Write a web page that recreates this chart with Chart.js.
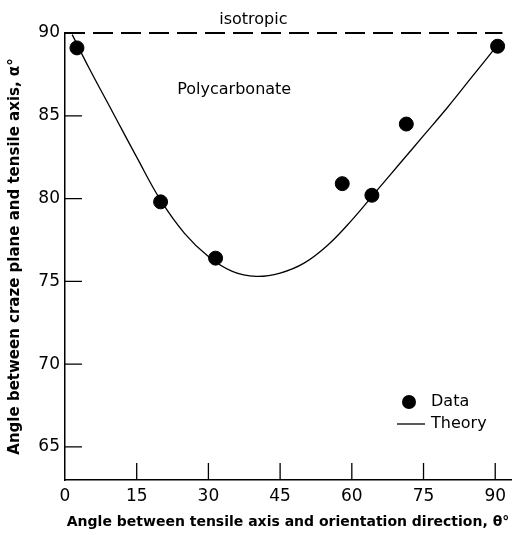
<!DOCTYPE html>
<html>
<head>
<meta charset="utf-8">
<script src="https://cdn.jsdelivr.net/npm/chart.js@4.4.1/dist/chart.umd.min.js"></script>
<style>
  html, body { margin: 0; padding: 0; background: #fff; }
  #wrap { width: 519px; height: 535px; }
</style>
</head>
<body>
<div id="wrap"><canvas id="myChart" width="519" height="535"></canvas></div>
<script>
// measured points (theta, alpha)
const dataTheta = [2.5, 20, 31.5, 58, 64.2, 71.4, 90.5];
const dataAlpha = [89.1, 79.8, 76.4, 80.9, 80.2, 84.5, 89.2];

// theory curve
const theoryTheta = [1.5, 5, 10, 15, 20, 25, 30, 35, 40, 45, 50, 55, 60, 65, 70, 75, 80, 85, 90];
const theoryAlpha = [89.9, 87.9, 85.2, 82.5, 79.9, 77.9, 76.5, 75.6, 75.3, 75.5, 76.1, 77.2, 78.7, 80.4, 82.1, 83.8, 85.5, 87.3, 89.1];

// isotropic reference line
const isoTheta = [0, 91.5];
const isoAlpha = [90, 90];

const xTicks = [0, 15, 30, 45, 60, 75, 90];
const yTicks = [65, 70, 75, 80, 85, 90];

const FONT = 'DejaVu Sans';

const toXY = (xs, ys) => xs.map((x, i) => ({ x: x, y: ys[i] }));

// inward tick marks, labels and legend
const extras = {
   id: 'extras',
   afterDraw(chart) {
      const c = chart.ctx;
      const xs = chart.scales.x;
      const ys = chart.scales.y;
      const area = chart.chartArea;
      c.save();
      c.strokeStyle = '#000';
      c.lineWidth = 1.3;
      c.beginPath();
      xTicks.forEach(v => {
         if (v === 0) return;
         const px = xs.getPixelForValue(v);
         c.moveTo(px, area.bottom);
         c.lineTo(px, area.bottom - 17);
      });
      yTicks.forEach(v => {
         const py = ys.getPixelForValue(v);
         c.moveTo(area.left, py);
         c.lineTo(area.left + 17, py);
      });
      c.stroke();

      c.fillStyle = '#000';
      c.font = '16px ' + FONT;
      c.textAlign = 'center';
      c.textBaseline = 'middle';
      c.fillText('isotropic', xs.getPixelForValue(39.4), area.top - 13);
      c.fillText('Polycarbonate', xs.getPixelForValue(35.4), ys.getPixelForValue(86.55));

      // legend
      const lx = area.left + 344;
      const ly = area.top + 369;
      c.beginPath();
      c.arc(lx, ly, 7, 0, Math.PI * 2);
      c.fill();
      c.textAlign = 'left';
      c.fillText('Data', lx + 22, ly);
      c.beginPath();
      c.lineWidth = 1.3;
      c.moveTo(lx - 12, ly + 22);
      c.lineTo(lx + 16, ly + 22);
      c.stroke();
      c.fillText('Theory', lx + 22, ly + 22);
      c.restore();
   }
};

const ctx = document.getElementById('myChart').getContext('2d');
const myChart = new Chart(ctx, {
   type: 'scatter',
   data: {
      datasets: [{
         label: 'Data',
         data: toXY(dataTheta, dataAlpha),
         backgroundColor: '#000',
         borderColor: '#000',
         pointRadius: 7,
         pointHoverRadius: 7,
         showLine: false,
         clip: 10
      }, {
         label: 'Theory',
         data: toXY(theoryTheta, theoryAlpha),
         borderColor: '#000',
         borderWidth: 1.3,
         pointRadius: 0,
         showLine: true,
         tension: 0.4,
         clip: 10
      }, {
         label: 'isotropic',
         data: toXY(isoTheta, isoAlpha),
         borderColor: '#000',
         borderWidth: 2.2,
         borderDash: [20, 8],
         pointRadius: 0,
         showLine: true,
         clip: 10
      }]
   },
   options: {
      responsive: false,
      animation: false,
      layout: { padding: { top: 33, right: 8, left: 0, bottom: 0 } },
      plugins: {
         legend: { display: false },
         tooltip: { enabled: false }
      },
      scales: {
         x: {
            type: 'linear',
            min: 0,
            max: 93.3,
            afterFit: s => { s.height = 55; },
            afterBuildTicks: s => { s.ticks = xTicks.map(v => ({ value: v })); },
            border: { display: true, color: '#000', width: 1.5 },
            grid: { display: true, drawOnChartArea: false, drawTicks: false },
            ticks: { color: '#000', padding: 6, font: { family: FONT, size: 17 }, maxRotation: 0 },
            title: {
               display: true,
               text: 'Angle between tensile axis and orientation direction, θ°',
               color: '#000',
               font: { family: FONT, size: 14, weight: 'bold' },
               padding: { top: 0, bottom: 4 }
            }
         },
         y: {
            type: 'linear',
            min: 63,
            max: 90,
            afterFit: s => { s.width = 65; },
            afterBuildTicks: s => { s.ticks = yTicks.map(v => ({ value: v })); },
            border: { display: true, color: '#000', width: 1.5 },
            grid: { display: true, drawOnChartArea: false, drawTicks: false },
            ticks: { color: '#000', padding: 5, font: { family: FONT, size: 17 } },
            title: {
               display: true,
               text: 'Angle between craze plane and tensile axis, α°',
               color: '#000',
               font: { family: FONT, size: 15, weight: 'bold' },
               padding: { top: 6, bottom: 0 }
            }
         }
      }
   },
   plugins: [extras]
});
</script>
</body>
</html>
